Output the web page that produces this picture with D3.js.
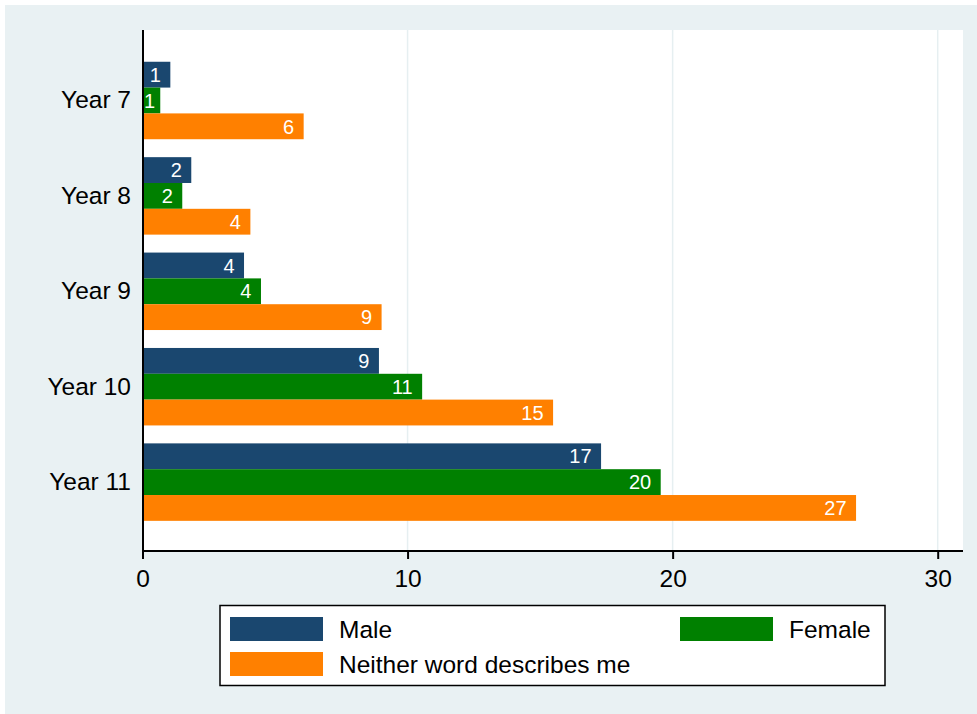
<!DOCTYPE html>
<html>
<head>
<meta charset="utf-8">
<script src="https://cdn.jsdelivr.net/npm/d3@7"></script>
<style>
  html, body { margin: 0; padding: 0; background: #ffffff; }
  svg { display: block; font-family: "Liberation Sans", Arial, sans-serif; }
</style>
</head>
<body>
<svg id="chart" width="977" height="714"></svg>
<script>
const categories = ["Year 7", "Year 8", "Year 9", "Year 10", "Year 11"];
const seriesNames = ["Male", "Female", "Neither word describes me"];
const maleValues    = [1.05, 1.84, 3.83, 8.92, 17.3];
const femaleValues  = [0.67, 1.5, 4.47, 10.55, 19.55];
const neitherValues = [6.08, 4.07, 9.02, 15.49, 26.92];
const xTicks = [0, 10, 20, 30];
const seriesColors = ["#1a476f", "#008000", "#ff8000"];

const seriesValues = [maleValues, femaleValues, neitherValues];

const svg = d3.select("#chart");
const W = 977, H = 714;
const FS = 24.5;

// outer graph region
svg.append("rect").attr("x", 5).attr("y", 5).attr("width", W - 5).attr("height", H - 5)
  .attr("fill", "#e9f1f3");

const plot = { left: 143, right: 963, top: 30, bottom: 551 };

svg.append("rect").attr("x", plot.left).attr("y", plot.top)
  .attr("width", plot.right - plot.left).attr("height", plot.bottom - plot.top)
  .attr("fill", "#ffffff");

const x = d3.scaleLinear().domain([0, 30]).range([142.5, 937.7]);
const y = d3.scaleBand().domain(categories).range([plot.top + 0.8, plot.bottom + 0.8])
  .paddingInner(0.188).paddingOuter(0.3245);
const ySub = d3.scaleBand().domain(seriesNames).range([0, y.bandwidth()]);

// gridlines
svg.append("g").selectAll("line").data(xTicks.filter(t => t > 0)).join("line")
  .attr("x1", d => x(d)).attr("x2", d => x(d))
  .attr("y1", plot.top).attr("y2", plot.bottom)
  .attr("stroke", "#e6eff1").attr("stroke-width", 1.5);

// bars
const groups = svg.append("g").selectAll("g").data(categories).join("g")
  .attr("transform", d => `translate(0,${y(d)})`);

groups.each(function(cat, ci) {
  const g = d3.select(this);
  seriesNames.forEach((s, si) => {
    const v = seriesValues[si][ci];
    g.append("rect")
      .attr("x", x(0)).attr("y", ySub(s))
      .attr("width", x(v) - x(0)).attr("height", ySub.bandwidth())
      .attr("fill", seriesColors[si]);
    const t = g.append("text")
      .attr("y", ySub(s) + ySub.bandwidth() / 2 + 7.2)
      .attr("text-anchor", "end")
      .attr("fill", "#ffffff")
      .attr("font-size", 20)
      .text(Math.round(v));
    const tw = t.node().getComputedTextLength();
    t.attr("x", Math.max(x(v) - 9.5, x(0) + 1.5 + tw));
  });
});

// y axis (categories, no ticks)
const yAxis = d3.axisLeft(y).tickSize(0).tickPadding(12);
const yg = svg.append("g").attr("transform", `translate(${plot.left},0)`).call(yAxis);
yg.select(".domain").remove();
yg.selectAll("text").attr("font-size", FS).attr("fill", "#000")
  .attr("font-family", "Liberation Sans, Arial, sans-serif");
svg.append("line").attr("x1", plot.left).attr("x2", plot.left)
  .attr("y1", plot.top).attr("y2", plot.bottom + 1)
  .attr("stroke", "#000").attr("stroke-width", 2);

// x axis
const xAxis = d3.axisBottom(x).tickValues(xTicks).tickSize(8).tickPadding(10.5).tickFormat(d3.format("d"));
const xg = svg.append("g").attr("transform", `translate(0,${plot.bottom})`).call(xAxis);
xg.select(".domain").remove();
xg.selectAll(".tick line").attr("stroke", "#000").attr("stroke-width", 2);
xg.selectAll("text").attr("font-size", FS).attr("fill", "#000")
  .attr("font-family", "Liberation Sans, Arial, sans-serif");
svg.append("line").attr("x1", plot.left - 1).attr("x2", plot.right)
  .attr("y1", plot.bottom).attr("y2", plot.bottom)
  .attr("stroke", "#000").attr("stroke-width", 2);

// legend
const legend = svg.append("g");
legend.append("rect").attr("x", 220).attr("y", 605.5).attr("width", 665).attr("height", 80)
  .attr("fill", "#ffffff").attr("stroke", "#000").attr("stroke-width", 1.5);
const legendPos = [
  { sx: 230, sy: 617, tx: 339 },
  { sx: 680, sy: 617, tx: 789 },
  { sx: 230, sy: 652, tx: 339 }
];
seriesNames.forEach((s, i) => {
  const p = legendPos[i];
  legend.append("rect").attr("x", p.sx).attr("y", p.sy).attr("width", 93).attr("height", 24)
    .attr("fill", seriesColors[i]);
  legend.append("text").attr("x", p.tx).attr("y", p.sy + 21)
    .attr("font-size", FS).attr("fill", "#000").text(s);
});
</script>
</body>
</html>
